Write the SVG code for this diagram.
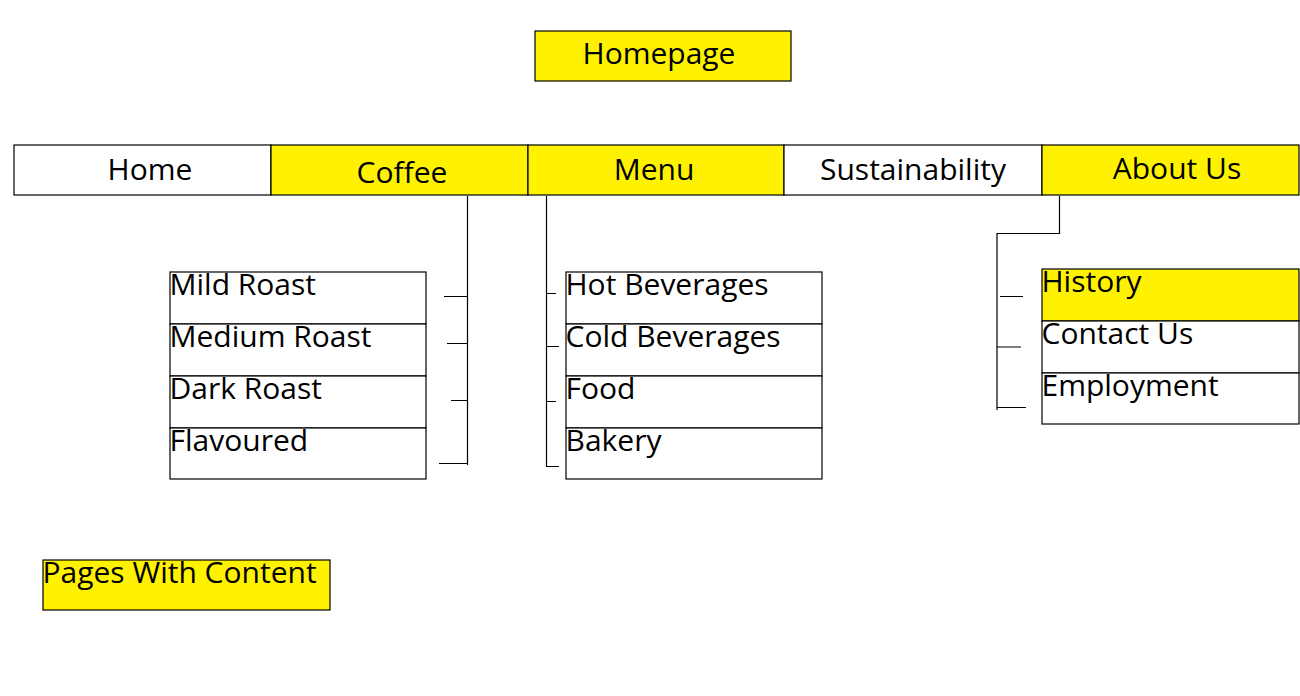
<svg xmlns="http://www.w3.org/2000/svg" width="1300" height="696" viewBox="0 0 1300 696">
<style>
.b{stroke:#000;stroke-width:1.2}
.y{fill:#FFF200}
.w{fill:#fff}
text{font-family:"Open Sans","Noto Sans","Liberation Sans",sans-serif;font-size:30px;fill:#000}
.c{text-anchor:middle}
.l{stroke:#000;stroke-width:1.2;fill:none}
</style>
<rect width="1300" height="696" fill="#fff"/>
<g id="homepage"><rect class="b y" x="535" y="31" width="256" height="50"/><text class="c" x="659" y="64">Homepage</text></g>
<g id="nav-home"><rect class="b w" x="14" y="145" width="257" height="50"/><text class="c" x="150" y="180">Home</text></g>
<g id="nav-coffee"><rect class="b y" x="271" y="145" width="257" height="50"/><text class="c" x="402" y="183">Coffee</text></g>
<g id="nav-menu"><rect class="b y" x="528" y="145" width="256" height="50"/><text class="c" x="654" y="180">Menu</text></g>
<g id="nav-sustainability"><rect class="b w" x="784" y="145" width="258" height="50"/><text class="c" x="913" y="180">Sustainability</text></g>
<g id="nav-about"><rect class="b y" x="1042" y="145" width="257" height="50"/><text class="c" x="1177" y="179">About Us</text></g>
<g id="mild-roast"><rect class="b w" x="170" y="272" width="256" height="52"/><text x="169.5" y="295">Mild Roast</text></g>
<g id="medium-roast"><rect class="b w" x="170" y="324" width="256" height="52"/><text x="169.5" y="347">Medium Roast</text></g>
<g id="dark-roast"><rect class="b w" x="170" y="376" width="256" height="52"/><text x="169.5" y="399">Dark Roast</text></g>
<g id="flavoured"><rect class="b w" x="170" y="428" width="256" height="51"/><text x="169.5" y="451">Flavoured</text></g>
<g id="hot-beverages"><rect class="b w" x="566" y="272" width="256" height="52"/><text x="565.5" y="295">Hot Beverages</text></g>
<g id="cold-beverages"><rect class="b w" x="566" y="324" width="256" height="52"/><text x="565.5" y="347">Cold Beverages</text></g>
<g id="food"><rect class="b w" x="566" y="376" width="256" height="52"/><text x="565.5" y="399">Food</text></g>
<g id="bakery"><rect class="b w" x="566" y="428" width="256" height="51"/><text x="565.5" y="451">Bakery</text></g>
<g id="history"><rect class="b y" x="1042" y="269" width="257" height="52"/><text x="1041.5" y="292">History</text></g>
<g id="contact-us"><rect class="b w" x="1042" y="321" width="257" height="52"/><text x="1041.5" y="344">Contact Us</text></g>
<g id="employment"><rect class="b w" x="1042" y="373" width="257" height="51"/><text x="1041.5" y="396">Employment</text></g>
<g id="legend"><rect class="b y" x="43" y="560" width="287" height="50"/><text x="42.5" y="583">Pages With Content</text></g>
<g id="connectors">
<path class="l" d="M467.5 196V465M444 296.5H467.5M447 343.5H467.5M451 400.5H467.5M439 463.5H467.5"/>
<path class="l" d="M546.5 196V467M546.5 293.5H556M546.5 346.5H559M546.5 401.5H556M546.5 466.5H559"/>
<path class="l" d="M1059.5 196V233.5H997V410M1000 296.5H1023M997 347H1021M997 407.5H1026"/>
</g>
</svg>
